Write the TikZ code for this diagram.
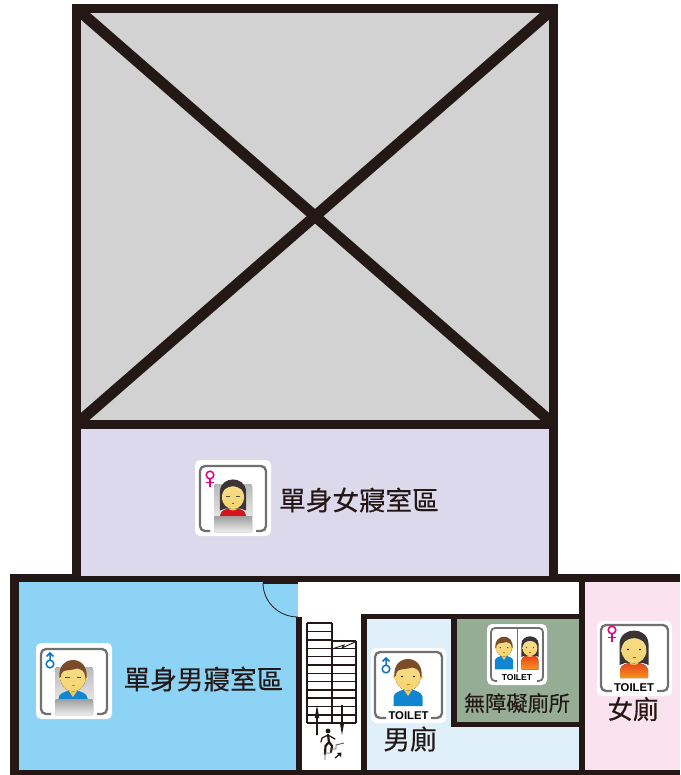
\documentclass[tikz,border=0pt]{standalone}
\usepackage{fontspec}
\setmainfont{Liberation Sans}
\newfontfamily\cjk[FakeBold=0.25]{Noto Sans CJK TC}
\definecolor{wall}{HTML}{231815}
\definecolor{voidgray}{HTML}{D2D2D2}
\definecolor{lilac}{HTML}{DCD9EC}
\definecolor{skyb}{HTML}{8DD3F5}
\definecolor{palebl}{HTML}{DFF0FA}
\definecolor{sage}{HTML}{94AD94}
\definecolor{pinkrm}{HTML}{FAE3EF}
\definecolor{framegray}{HTML}{707070}
\definecolor{skin}{HTML}{F5D572}
\definecolor{brownh}{HTML}{7B4B2A}
\definecolor{darkh}{HTML}{3B3436}
\definecolor{shirtb}{HTML}{0F86CF}
\definecolor{malec}{HTML}{0F75BD}
\definecolor{femc}{HTML}{E6007E}
\definecolor{shirttop}{HTML}{E8441C}
\definecolor{shirtbot}{HTML}{F7941E}
\definecolor{shirtred}{HTML}{D7141E}
\tikzset{
  wallfill/.style={fill=wall,draw=none},
  roomlabel/.style={text=wall,inner sep=0pt,font=\cjk\fontsize{26.6}{26.6}\selectfont},
  iconplate/.style={fill=white,draw=none,rounded corners=5pt},
  iconframe/.style={draw=framegray,line width=2.3pt,rounded corners=5pt},
  toiletword/.style={text=black,inner sep=0pt,font=\bfseries\fontsize{11.3}{11.3}\selectfont},
  treadline/.style={draw=wall,line width=1.5pt},
}
\newcommand{\femsym}[3][1]{\begin{scope}[shift={(#2,#3)},scale=#1]
  \draw[femc,line width=1.5pt] (0,-3) circle (3.8);
  \draw[femc,line width=1.5pt] (0,0.8) -- (0,8.5) (-3.6,4.6) -- (3.6,4.6);
\end{scope}}
\newcommand{\malesym}[3][1]{\begin{scope}[shift={(#2,#3)},scale=#1]
  \draw[malec,line width=1.5pt] (0,3) circle (3.8);
  \draw[malec,line width=1.5pt] (0,-0.8) -- (0,-8) (-3.4,-4.6) -- (0,-8) -- (3.4,-4.6);
\end{scope}}
% optional: 1 = open eyes, 0 = closed; x; y; scale; shirt bottom
\newcommand{\boyfig}[5][1]{\begin{scope}[shift={(#2,#3)},scale=#4]
  \fill[shirtb] (-14.5,#5) -- (-14.5,20) .. controls (-14,15) and (-8,14) .. (-3,12) -- (3,12) .. controls (8,14) and (14,15) .. (14.5,20) -- (14.5,#5) -- cycle;
  \fill[skin!85!orange] (-4,8) -- (4,8) -- (4,13) -- (0,19) -- (-4,13) -- cycle;
  \fill[skin] (-13.2,0) circle (2) (13.2,0) circle (2);
  \fill[top color=skin!85!white,bottom color=skin] (0,0) ellipse (12.5 and 13.5);
  \fill[brownh] (-13.5,0) .. controls (-16.5,-24) and (16.5,-24) .. (13.5,0) -- (12.3,-1) .. controls (12,-7) and (8,-9) .. (4,-9.5) .. controls (0,-8) and (-6,-8) .. (-9,-7) .. controls (-12,-5) and (-12,-3) .. (-12.3,-1) -- cycle;
  \ifnum#1=1
    \fill[black] (-6,-0.5) circle (.9) (6,-0.5) circle (.9);
  \else
    \draw[black!70,line width=.5pt] (-8,-1) -- (-3.5,-1) (3.5,-1) -- (8,-1);
  \fi
  \draw[orange!60!brown,line width=.4pt] (-1.5,7) -- (1.5,7);
\end{scope}}
% optional eyes; x; y; scale; shirt bottom; top colour; bottom colour (arg 7 read as extra)
\newcommand{\girlfig}[7][1]{\begin{scope}[shift={(#2,#3)},scale=#4]
  \fill[top color=#6,bottom color=#7] (-14,#5) -- (-14,20) .. controls (-13,14) and (-7,13) .. (0,13) .. controls (7,13) and (13,14) .. (14,20) -- (14,#5) -- cycle;
  \fill[darkh] (-14.5,15) -- (-14.5,-6) .. controls (-14,-24) and (14,-24) .. (14.5,-6) -- (14.5,15) -- (9,13) -- (-9,13) -- cycle;
  \fill[skin!85!orange] (-4,9) -- (4,9) -- (4,14) -- (0,15) -- (-4,14) -- cycle;
  \fill[top color=skin!85!white,bottom color=skin] (0,0) ellipse (12.5 and 13.5);
  \fill[darkh] (-12.5,0) .. controls (-12.5,-8) and (-8,-11) .. (0,-12) .. controls (8,-11) and (12.5,-8) .. (12.5,0) -- (13,-12) -- (0,-17) -- (-13,-12) -- cycle;
  \ifnum#1=1
    \fill[black] (-6,-0.5) circle (.9) (6,-0.5) circle (.9);
  \else
    \draw[black!70,line width=.5pt] (-8,-1) -- (-3.5,-1) (3.5,-1) -- (8,-1);
  \fi
  \draw[red!60!brown,line width=.4pt] (-1.5,7) -- (1.5,7);
\end{scope}}
\newcommand{\dormplate}[2]{
  \fill[iconplate] (#1,#2) rectangle ++(76,76);
  \draw[iconframe] (#1+15,#2+71) -- (#1+5,#2+71) -- (#1+5,#2+6) -- (#1+71,#2+6) -- (#1+71,#2+71) -- (#1+61,#2+71);
  \fill[rounded corners=3pt,top color=black!28,bottom color=black!8] (#1+19,#2+24) rectangle ++(38,36);
}
\newcommand{\blanket}[2]{\fill[rounded corners=1.5pt,top color=black!38,bottom color=black!7] (#1+19,#2+56) rectangle ++(38,16);}
\newcommand{\toiletplate}[2]{
  \fill[iconplate] (#1,#2) rectangle ++(75,75);
  \draw[iconframe] (#1+15,#2+70) -- (#1+4,#2+70) -- (#1+4,#2+4) -- (#1+71,#2+4) -- (#1+71,#2+70) -- (#1+60,#2+70);
}
\begin{document}
\begin{tikzpicture}[x=1pt,y=-1pt]
\useasboundingbox (0,0) rectangle (680,775);
% room fills
\fill[voidgray] (76,8) rectangle (554,424);
\fill[lilac] (76,424) rectangle (554,578);
\fill[skyb] (15,578) rectangle (298,772);
\fill[palebl] (364,616) rectangle (582,772);
\fill[sage] (454,616) rectangle (582,725);
\fill[pinkrm] (582,578) rectangle (680,772);
% upper block walls
\draw[wall,line width=11pt] (76.5,8.5) -- (553.5,424) (553.5,8.5) -- (76.5,424);
\fill[white] (60,0) rectangle (72,30) (60,400) rectangle (72,440) (558,0) rectangle (575,30) (558,400) rectangle (575,440) (60,0) rectangle (575,4);
\draw[wall,line width=9pt,line join=miter] (76.5,8.5) rectangle (553.5,424);
\draw[wall,line width=9pt] (76.5,424) -- (76.5,578) (553.5,424) -- (553.5,578);
% lower block walls
\fill[wallfill] (10,573.5) rectangle (81,582);
\fill[wallfill] (81,576) rectangle (549,582);
\fill[wallfill] (549,574) rectangle (680,581.5);
\fill[wallfill] (263,582) rectangle (298,584);
\fill[wallfill] (10,573.5) rectangle (19,775);
\fill[wallfill] (10,770) rectangle (680,775);
\fill[wallfill] (296,617) rectangle (302,775);
\fill[wallfill] (361,614) rectangle (367,775);
\fill[wallfill] (361,614) rectangle (585,619);
\fill[wallfill] (451,614) rectangle (457,727);
\fill[wallfill] (451,722) rectangle (585,727);
\fill[wallfill] (579,574) rectangle (585,775);
% door
\draw[wall,line width=.8pt] (263,583) arc[start angle=180,end angle=270,x radius=35,y radius=-34];
% stairs
\foreach \yy in {623,631.7,640,648.3,656.7,665,673.3,681.7,690,698,706.5,715,723}
  \draw[treadline] (307,\yy) -- (332,\yy);
\foreach \yy in {641,648.3,656.7,665,673.3,681.7,690,698,706.5,715,723}
  \draw[treadline] (332,\yy) -- (356,\yy);
\draw[treadline] (307,623) -- (307,723) (332,623) -- (332,723) (356,641) -- (356,723);
\fill[white] (333,642) rectangle (355,648);
\draw[wall,line width=.9pt] (332,649) -- (344,645) -- (342,648) -- (355,642);
\fill[wall] (316.2,735) -- (316.2,718) -- (314.7,718) -- (317,705) -- (319.3,718) -- (317.8,718) -- (317.8,735) -- cycle;
\fill[wall] (341.2,705) -- (341.2,722) -- (339.7,722) -- (342,735) -- (344.3,722) -- (342.8,722) -- (342.8,705) -- cycle;
% stair walker
\fill[wall] (328,731) circle (2.4);
\draw[wall,line width=2.2pt,line cap=round] (328,735) -- (329,742) -- (332,746) -- (331,752);
\draw[wall,line width=2.2pt,line cap=round] (329,742) -- (325.5,746) -- (325,754);
\draw[wall,line width=1.3pt,line cap=round] (328,735) -- (322,738) -- (321,742) (328,735) -- (335,739);
\draw[wall!70,line width=.9pt] (325,760) -- (325,753) -- (331,753) -- (331,749) -- (336,749) -- (336,745) -- (344,743);
\draw[wall,line width=1.2pt] (335,758) -- (340,754);
\fill[wall] (341.5,752.5) -- (341,757) -- (337,753) -- cycle;
% female dorm icon
\dormplate{195}{460}
\girlfig[0]{233}{497}{.9}{24}{shirtred}{shirtred}
\blanket{195}{460}
\femsym{210}{478}
\node[roomlabel] (femdorm) at (359,500) {單身女寢室區};
% male dorm icon
\dormplate{36}{643}
\boyfig[0]{73}{678}{1}{24}
\blanket{36}{643}
\malesym{50}{661}
\node[roomlabel] (maledorm) at (203.5,679) {單身男寢室區};
% men's toilet
\toiletplate{371}{648}
\boyfig{408}{677}{1}{29}
\malesym{386}{666}
\node[toiletword] (tm) at (408.5,715.5) {TOILET};
\node[roomlabel] (menwc) at (410,739) {男廁};
% accessible toilet
\fill[iconplate] (487,624) rectangle (547,685);
\draw[iconframe,line width=1.7pt,rounded corners=4pt] (497,681) -- (491,681) -- (491,628) -- (543,628) -- (543,681) -- (537,681);
\draw[framegray,line width=1pt] (517,628) -- (517,672);
\boyfig{504}{648}{.63}{34}
\girlfig{530}{648}{.6}{36}{shirttop}{shirtbot}
\node[toiletword,font=\bfseries\fontsize{8.6}{8.6}\selectfont] (ta) at (517,678) {TOILET};
\node[roomlabel,font=\cjk\fontsize{21.2}{21.2}\selectfont] (acc) at (517,703) {無障礙廁所};
% women's toilet
\toiletplate{597}{621}
\girlfig{634}{650}{1}{28}{shirttop}{shirtbot}
\femsym{612}{633}
\node[toiletword] (tw) at (634,687.5) {TOILET};
\node[roomlabel,font=\cjk\fontsize{25.5}{25.5}\selectfont] (womwc) at (633,709) {女廁};
\end{tikzpicture}
\end{document}
